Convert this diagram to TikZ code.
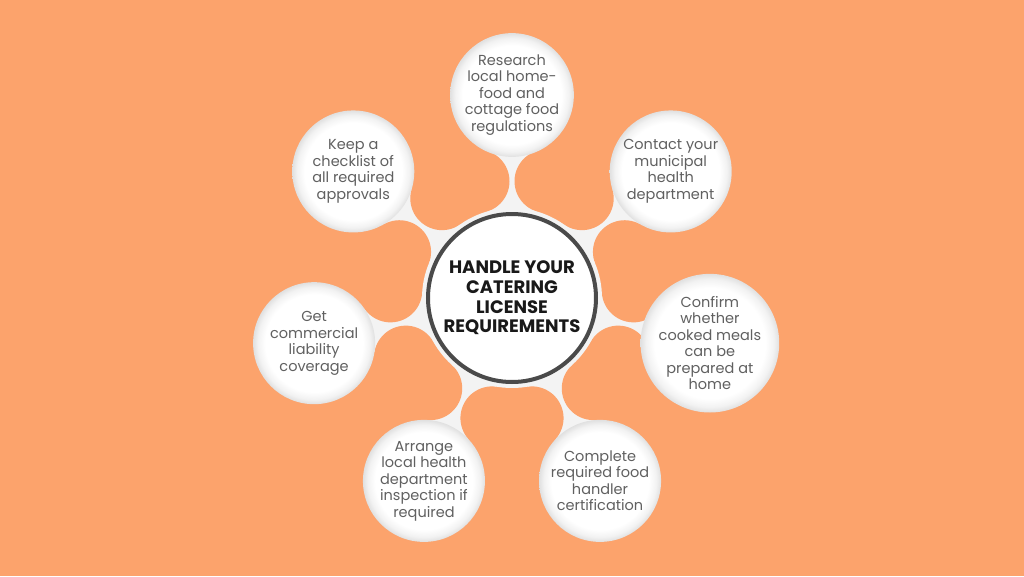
\documentclass[tikz,border=0pt]{standalone}
\usepackage{fontspec}
\newfontfamily\popp{Poppins}
\definecolor{bgorange}{HTML}{FCA36C}
\definecolor{neckgray}{HTML}{F3F3F3}
\definecolor{rimgray}{HTML}{4A4A4A}
\definecolor{txtgray}{HTML}{606060}
\pgfdeclareradialshading{bubbleshade}{\pgfpoint{0bp}{0bp}}{color(0bp)=(white); color(20bp)=(white); color(23bp)=(black!5); color(25bp)=(black!12); color(50bp)=(black!12)}

\begin{document}
\begin{tikzpicture}[x=1pt,y=1pt,
	hub/.style={circle,fill=white,draw=rimgray,line width=4pt,minimum size=168pt,inner sep=0pt,align=center,
		font=\popp\bfseries\fontsize{18}{19.7}\selectfont,text=black!90},
	bubble/.style={circle,shade,shading=bubbleshade,minimum size=122pt,inner sep=0pt,align=center,
		font=\popp\fontsize{14.5}{16.5}\selectfont,text=txtgray}]

	\fill[bgorange] (-512,-278) rectangle (512,298);
	\useasboundingbox (-512,-278) rectangle (512,298);

	\coordinate (O) at (0,0);

	% necks
	\foreach \a in {90,38.57,-12.86,-64.29,-115.71,-167.14,141.43}{
		\begin{scope}[shift={(O)},rotate=\a]
			\fill[neckgray] (86.4,-25.3) -- (86.4,25.3) -- (146.3,22.5) -- (146.3,-22.5) -- cycle;
			\fill[bgorange] (116.8,34.2) circle (31.7) (116.8,-34.2) circle (31.7);
		\end{scope}
	}
	\fill[neckgray] (O) circle (90);

	\node[bubble] (research) at (90:203) {Research\\local home-\\food and\\cottage food\\regulations};
	\node[bubble] (contact) at (38.57:203) {Contact your\\municipal\\health\\department};
	\node[bubble] (confirm) at (-12.86:203) {Confirm\\whether\\cooked meals\\can be\\prepared at\\home};
	\node[bubble] (complete) at (-64.29:203) {Complete\\required food\\handler\\certification};
	\node[bubble] (arrange) at (-115.71:203) {Arrange\\local health\\department\\inspection if\\required};
	\node[bubble] (coverage) at (-167.14:203) {Get\\commercial\\liability\\coverage};
	\node[bubble] (checklist) at (141.43:203) {Keep a\\checklist of\\all required\\approvals};

	\node[hub] (hub) at (O) {HANDLE YOUR\\CATERING\\LICENSE\\REQUIREMENTS};

\end{tikzpicture}
\end{document}
